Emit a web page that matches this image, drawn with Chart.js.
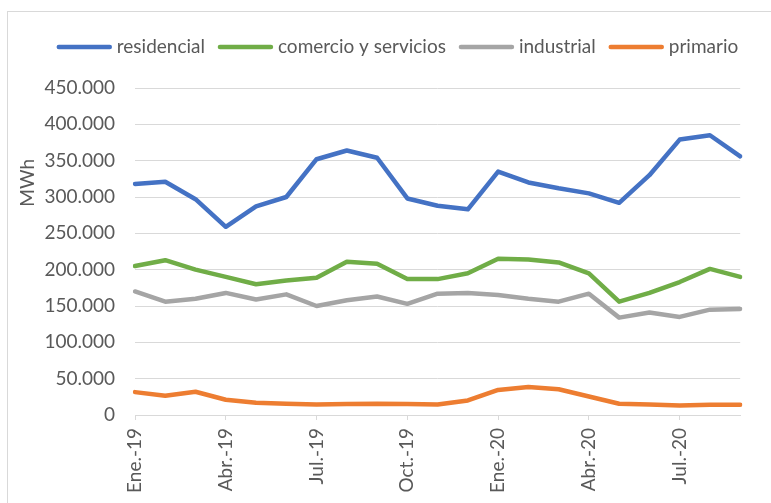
<!DOCTYPE html>
<html>
<head>
<meta charset="utf-8">
<script src="https://cdn.jsdelivr.net/npm/chart.js@4.4.1/dist/chart.umd.min.js"></script>
<style>
  html, body { margin: 0; padding: 0; background: #ffffff; overflow: hidden; }
  #wrap { position: relative; width: 771px; height: 503px; }
</style>
</head>
<body>
<div id="wrap"><canvas id="c"></canvas></div>
<script>
// ---- data ----
const categories = [
  'Ene.-19','Feb.-19','Mar.-19','Abr.-19','May.-19','Jun.-19','Jul.-19','Ago.-19','Sep.-19','Oct.-19','Nov.-19','Dic.-19',
  'Ene.-20','Feb.-20','Mar.-20','Abr.-20','May.-20','Jun.-20','Jul.-20','Ago.-20','Sep.-20'
];
const residencial = [318000, 321000, 297000, 259000, 287000, 300000, 352000, 364000, 354000, 298000, 288000,
                     283000, 335000, 320000, 312000, 305000, 292000, 330000, 379000, 385000, 356000];
const comercioServicios = [205000, 213000, 200000, 190000, 180000, 185000, 189000, 211000, 208000, 187000, 187000,
                           195000, 215000, 214000, 210000, 195000, 156000, 168000, 183000, 201000, 190000];
const industrial = [170000, 156000, 160000, 168000, 159000, 166000, 150000, 158000, 163000, 153000, 167000,
                    168000, 165000, 160000, 156000, 167000, 134000, 141000, 135000, 145000, 146000];
const primario = [31500, 26500, 32000, 21000, 17000, 15500, 14500, 15000, 15500, 15000, 14500,
                  20000, 34500, 38500, 35500, 25500, 15500, 14500, 13000, 14000, 14000];
const seriesNames = ['residencial', 'comercio y servicios', 'industrial', 'primario'];
const yTicks = [0, 50000, 100000, 150000, 200000, 250000, 300000, 350000, 400000, 450000];
const yTitle = 'MWh';

const colors = ['#4472C4', '#70AD47', '#A5A5A5', '#ED7D31'];
const FONT = 'Lato';
const FS = 19;
const TXT = '#595959';

function fmt(v) {
  return String(Math.round(v)).replace(/\B(?=(\d{3})+(?!\d))/g, '.');
}

const framePlugin = {
  id: 'frame',
  beforeDraw(chart) {
    const ctx = chart.ctx;
    ctx.save();
    ctx.strokeStyle = '#d9d9d9';
    ctx.lineWidth = 1;
    ctx.strokeRect(7.5, 11.5, 900, 700);
    ctx.restore();
  }
};

const legendPlugin = {
  id: 'customLegend',
  afterDraw(chart) {
    const ctx = chart.ctx;
    ctx.save();
    ctx.font = FS + 'px ' + FONT;
    const lineLen = 55, gapText = 5, gapItem = 13;
    const ds = chart.data.datasets;
    let total = 0;
    ds.forEach((d, i) => {
      total += lineLen + gapText + ctx.measureText(d.label).width;
      if (i < ds.length - 1) total += gapItem;
    });
    let x = 397.5 - total / 2;
    const y = 47;
    ds.forEach((d) => {
      ctx.strokeStyle = d.borderColor;
      ctx.lineWidth = 4.5;
      ctx.lineCap = 'round';
      ctx.beginPath();
      ctx.moveTo(x + 2, y);
      ctx.lineTo(x + lineLen - 2, y);
      ctx.stroke();
      x += lineLen + gapText;
      ctx.fillStyle = TXT;
      ctx.textBaseline = 'middle';
      ctx.textAlign = 'left';
      ctx.fillText(d.label, x, y);
      x += ctx.measureText(d.label).width + gapItem;
    });
    ctx.restore();
  }
};

const yTitlePlugin = {
  id: 'yTitle',
  afterDraw(chart) {
    const ctx = chart.ctx;
    const a = chart.chartArea;
    ctx.save();
    ctx.font = FS + 'px ' + FONT;
    ctx.fillStyle = TXT;
    ctx.translate(28, a.top + (a.bottom - a.top) * 0.29);
    ctx.rotate(-Math.PI / 2);
    ctx.textAlign = 'center';
    ctx.textBaseline = 'middle';
    ctx.fillText(yTitle, 0, 0);
    ctx.restore();
  }
};

const seriesData = [residencial, comercioServicios, industrial, primario];

new Chart(document.getElementById('c'), {
  type: 'line',
  data: {
    labels: categories,
    datasets: seriesData.map((arr, i) => ({
      label: seriesNames[i],
      data: arr,
      borderColor: colors[i],
      backgroundColor: colors[i],
      borderWidth: 4.5,
      pointRadius: 0,
      pointHoverRadius: 0,
      tension: 0,
      fill: false,
      borderCapStyle: 'round',
      borderJoinStyle: 'round'
    }))
  },
  options: {
    responsive: true,
    maintainAspectRatio: false,
    animation: false,
    events: [],
    layout: { padding: { top: 88, right: 29, bottom: 0, left: 0 } },
    plugins: {
      legend: { display: false },
      tooltip: { enabled: false },
      title: { display: false }
    },
    scales: {
      x: {
        type: 'category',
        offset: false,
        afterFit(s) { s.height = 88; },
        grid: {
          display: true,
          drawOnChartArea: false,
          drawTicks: true,
          tickLength: 5,
          lineWidth: 1,
          color: (c) => (c.index % 3 === 0 ? '#d9d9d9' : 'rgba(0,0,0,0)')
        },
        border: { display: true, color: '#d9d9d9', width: 1 },
        ticks: {
          autoSkip: false,
          minRotation: 90,
          maxRotation: 90,
          padding: 8,
          color: TXT,
          font: { family: FONT, size: FS },
          callback: function(v, i) { return i % 3 === 0 ? categories[i] : ''; }
        }
      },
      y: {
        min: 0,
        max: 450000,
        afterFit(s) { s.width = 135; },
        afterBuildTicks(s) { s.ticks = yTicks.map(v => ({ value: v })); },
        grid: {
          display: true,
          drawTicks: false,
          color: '#d9d9d9',
          lineWidth: 1
        },
        border: { display: false },
        ticks: {
          padding: 20,
          color: TXT,
          font: { family: FONT, size: FS },
          callback: (v) => fmt(v)
        }
      }
    }
  },
  plugins: [framePlugin, legendPlugin, yTitlePlugin]
});
</script>
</body>
</html>
